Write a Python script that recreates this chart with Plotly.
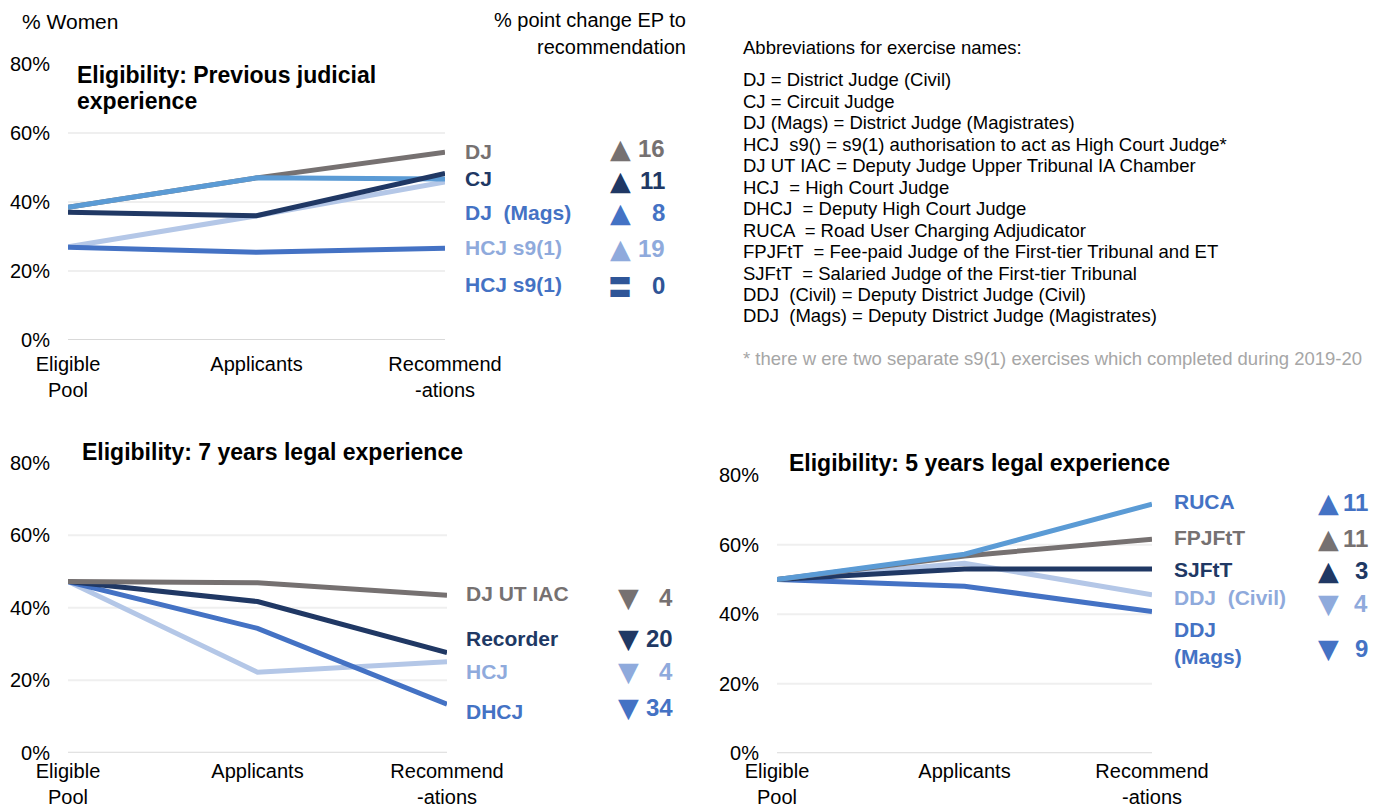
import plotly.graph_objects as go

W, H = 1379, 811
OFF = 8  # page body margin in the browser

# ---------------- data ----------------
stages = ["Eligible<br>Pool", "Applicants", "Recommend<br>-ations"]
y_ticks = [0, 20, 40, 60, 80]

# Panel 1: Previous judicial experience
p1_names = ["DJ", "HCJ s9(1)", "HCJ s9(1)", "DJ  (Mags)", "CJ"]
p1_values = [
    [38.5, 47.0, 54.4],   # DJ
    [27.0, 36.0, 45.8],   # HCJ s9(1) (first)
    [26.9, 25.4, 26.6],   # HCJ s9(1) (second)
    [38.5, 47.0, 46.7],   # DJ (Mags)
    [37.0, 36.0, 48.3],   # CJ
]
p1_change = [16, 19, 0, 8, 11]

# Panel 2: 7 years legal experience
p2_names = ["HCJ", "DHCJ", "Recorder", "DJ UT IAC"]
p2_values = [
    [47.2, 22.2, 25.1],   # HCJ
    [47.2, 34.3, 13.4],   # DHCJ
    [47.2, 41.7, 27.6],   # Recorder
    [47.2, 46.9, 43.4],   # DJ UT IAC
]
p2_change = [-4, -34, -20, -4]

# Panel 3: 5 years legal experience
p3_names = ["DDJ<br>(Mags)", "DDJ  (Civil)", "SJFtT", "FPJFtT", "RUCA"]
p3_values = [
    [50.0, 48.1, 40.8],   # DDJ (Mags)
    [50.0, 54.7, 45.6],   # DDJ (Civil)
    [50.0, 53.0, 53.0],   # SJFtT
    [50.0, 56.8, 61.6],   # FPJFtT
    [50.0, 57.3, 71.7],   # RUCA
]
p3_change = [-9, -4, 3, 11, 11]

abbrev_header = "Abbreviations for exercise names:"
abbrev_lines = [
    "DJ = District Judge (Civil)",
    "CJ = Circuit Judge",
    "DJ (Mags) = District Judge (Magistrates)",
    "HCJ  s9() = s9(1) authorisation to act as High Court Judge*",
    "DJ UT IAC = Deputy Judge Upper Tribunal IA Chamber",
    "HCJ  = High Court Judge",
    "DHCJ  = Deputy High Court Judge",
    "RUCA  = Road User Charging Adjudicator",
    "FPJFtT  = Fee-paid Judge of the First-tier Tribunal and ET",
    "SJFtT  = Salaried Judge of the First-tier Tribunal",
    "DDJ  (Civil) = Deputy District Judge (Civil)",
    "DDJ  (Mags) = Deputy District Judge (Magistrates)",
]
footnote = "* there w ere two separate s9(1) exercises which completed during 2019-20"

# ---------------- styles ----------------
GRAY = "#767171"
NAVY = "#203864"
LBLUE = "#5B9BD5"
PALE = "#B4C7E7"
MBLUE = "#4472C4"
PALE_TXT = "#8FAADC"
DBLUE = "#2F5597"

p1_line = [GRAY, PALE, MBLUE, LBLUE, NAVY]
p1_txt = [GRAY, PALE_TXT, MBLUE, MBLUE, NAVY]
p1_sym = [GRAY, PALE_TXT, DBLUE, MBLUE, NAVY]
p1_label_y = [54.5, 26.7, 16.2, 37.1, 46.7]
p1_sym_y = [55.6, 26.4, 15.8, 37.1, 46.2]

p2_line = [PALE, MBLUE, NAVY, GRAY]
p2_txt = [PALE_TXT, MBLUE, NAVY, GRAY]
p2_label_y = [22.3, 11.5, 31.6, 43.8]
p2_sym_y = [22.3, 12.6, 31.6, 42.7]

p3_line = [MBLUE, PALE, NAVY, GRAY, LBLUE]
p3_txt = [MBLUE, PALE_TXT, NAVY, GRAY, MBLUE]
p3_label_y = [31.7, 44.7, 53.0, 62.2, 72.6]
p3_sym_y = [30.3, 43.2, 52.5, 61.9, 72.2]


def px(x):
    return (x - OFF) / W


def py(y):
    return 1 - (y - OFF) / H


FONT = "Liberation Sans, Arial, sans-serif"
SYMFONT = "DejaVu Sans"

fig = go.Figure()

panels = [
    dict(names=p1_names, values=p1_values, change=p1_change, line=p1_line, txt=p1_txt, sym=p1_sym,
         label_y=p1_label_y, sym_y=p1_sym_y, ax="", xdom=(68, 445), ydom=(340, 64),
         name_x=463, sym_x=620, num_x=667, standoff=10),
    dict(names=p2_names, values=p2_values, change=p2_change, line=p2_line, txt=p2_txt, sym=p2_txt,
         label_y=p2_label_y, sym_y=p2_sym_y, ax="2", xdom=(68, 447), ydom=(752.7, 462.7),
         name_x=464, sym_x=628, num_x=675, standoff=4),
    dict(names=p3_names, values=p3_values, change=p3_change, line=p3_line, txt=p3_txt, sym=p3_txt,
         label_y=p3_label_y, sym_y=p3_sym_y, ax="3", xdom=(777, 1152), ydom=(753.3, 475.3),
         name_x=1172, sym_x=1328, num_x=1370, standoff=4),
]

annotations = []
shapes = []

for p in panels:
    ax = p["ax"]
    for name, vals, col in zip(p["names"], p["values"], p["line"]):
        fig.add_trace(go.Scatter(
            x=stages, y=vals, mode="lines", name=name.replace("<br>", " "),
            line=dict(color=col, width=5), xaxis="x" + ax, yaxis="y" + ax,
            hoverinfo="name+y",
        ))
    xa = dict(
        domain=[px(p["xdom"][0]), px(p["xdom"][1])], anchor="y" + ax,
        type="category", range=[0, 2], showgrid=False, zeroline=False, showline=False,
        ticks="", tickfont=dict(family=FONT, size=20, color="#000000"),
        ticklabelstandoff=p["standoff"], automargin=False, fixedrange=True,
    )
    ya = dict(
        domain=[py(p["ydom"][0]), py(p["ydom"][1])], anchor="x" + ax,
        range=[0, 80], tickvals=y_ticks, ticktext=[f"{v}%" for v in y_ticks],
        showgrid=False, zeroline=False, showline=False, ticks="",
        tickfont=dict(family=FONT, size=20, color="#000000"),
        ticklabelstandoff=17, automargin=False, fixedrange=True,
    )
    fig.update_layout(**{"xaxis" + ax: xa, "yaxis" + ax: ya})

    xref_dom = ("x" + ax) + " domain"
    for v in y_ticks[:-1]:
        shapes.append(dict(
            type="line", xref=xref_dom, yref="y" + ax, x0=0, x1=1, y0=v, y1=v,
            line=dict(color="#D9D9D9" if v == 0 else "#EFEFEF", width=2), layer="below",
        ))

    for name, ch, tc, sc, ly, sy in zip(p["names"], p["change"], p["txt"], p["sym"],
                                        p["label_y"], p["sym_y"]):
        annotations.append(dict(
            text=f"<b>{name}</b>", x=px(p["name_x"]), y=ly, xref="paper", yref="y" + ax,
            xanchor="left", yanchor="middle", showarrow=False, align="left",
            font=dict(family=FONT, size=21, color=tc),
        ))
        if ch > 0:
            sym, sfont, ssize = "▲", SYMFONT, 27
        elif ch < 0:
            sym, sfont, ssize = "▼", SYMFONT, 27
        else:
            sym, sfont, ssize = "〓", "Noto Sans CJK SC", 24
        annotations.append(dict(
            text=sym, x=px(p["sym_x"]), y=sy, xref="paper", yref="y" + ax,
            xanchor="center", yanchor="middle", showarrow=False,
            font=dict(family=sfont, size=ssize, color=sc),
        ))
        annotations.append(dict(
            text=f"<b>{abs(ch)}</b>", x=px(p["num_x"]), y=sy, xref="paper", yref="y" + ax,
            xanchor="right", yanchor="middle", showarrow=False,
            font=dict(family=FONT, size=24, color=sc),
        ))

# titles (one annotation per line)
titles = [
    ("Eligibility: Previous judicial", 75, 75),
    ("experience", 75, 101),
    ("Eligibility: 7 years legal experience", 80, 452),
    ("Eligibility: 5 years legal experience", 787, 463),
]
for t, x, y in titles:
    annotations.append(dict(
        text=f"<b>{t}</b>", x=px(x), y=py(y), xref="paper", yref="paper", xanchor="left",
        yanchor="middle", showarrow=False, align="left",
        font=dict(family=FONT, size=23, color="#000000"),
    ))

# headers
annotations.append(dict(text="% Women", x=px(20), y=py(21), xref="paper", yref="paper",
                        xanchor="left", yanchor="middle", showarrow=False,
                        font=dict(family=FONT, size=21, color="#000000")))
for t, y in [("% point change EP to", 20), ("recommendation", 47)]:
    annotations.append(dict(text=t, x=px(688), y=py(y), xref="paper", yref="paper",
                            xanchor="right", yanchor="middle", showarrow=False,
                            font=dict(family=FONT, size=20, color="#000000")))

# abbreviations
ABF = 18.5
annotations.append(dict(text=abbrev_header, x=px(741), y=py(48), xref="paper", yref="paper",
                        xanchor="left", yanchor="middle", showarrow=False,
                        font=dict(family=FONT, size=ABF, color="#000000")))
for i, line in enumerate(abbrev_lines):
    annotations.append(dict(text=line, x=px(741), y=py(80 + i * 21.45), xref="paper", yref="paper",
                            xanchor="left", yanchor="middle", showarrow=False,
                            font=dict(family=FONT, size=ABF, color="#000000")))
annotations.append(dict(text=footnote, x=px(741), y=py(358), xref="paper", yref="paper",
                        xanchor="left", yanchor="middle", showarrow=False,
                        font=dict(family=FONT, size=ABF, color="#A6A6A6")))

fig.update_layout(
    width=W, height=H, margin=dict(l=0, r=0, t=0, b=0, autoexpand=False),
    paper_bgcolor="white", plot_bgcolor="white", showlegend=False,
    annotations=annotations, shapes=shapes,
    font=dict(family=FONT),
)

fig.write_html("out.html")
